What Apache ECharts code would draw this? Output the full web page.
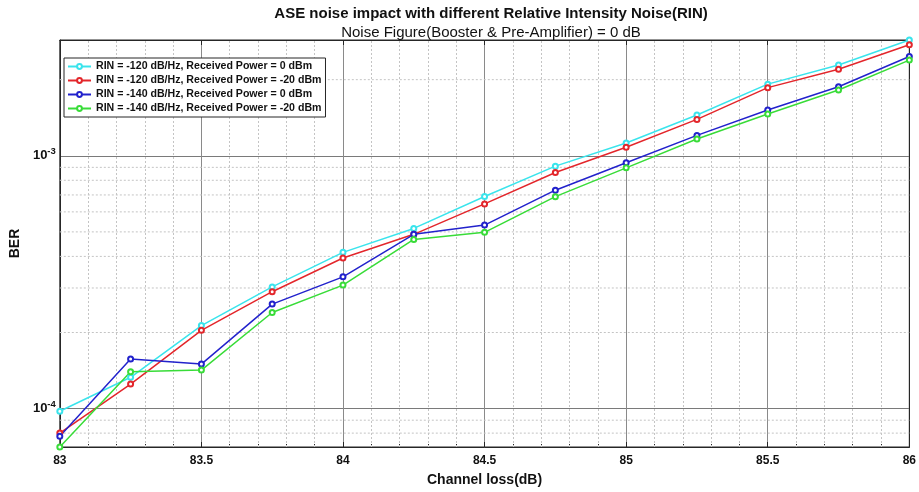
<!DOCTYPE html>
<html>
<head>
<meta charset="utf-8">
<script src="https://cdn.jsdelivr.net/npm/echarts@6/dist/echarts.min.js"></script>
<style>
  html, body { margin: 0; padding: 0; background: #fff; }
  #chart { width: 919px; height: 492px; }
</style>
</head>
<body>
<div id="chart"></div>
<script>
// channel loss (dB) on the x axis
const channelLoss = [83, 83.25, 83.5, 83.75, 84, 84.25, 84.5, 84.75, 85, 85.25, 85.5, 85.75, 86];

// BER, one array per curve
const rin120_p0 = [9.76e-5, 1.33e-4, 2.13e-4, 3.03e-4, 4.15e-4, 5.16e-4, 6.90e-4, 9.10e-4, 1.123e-3, 1.45e-3, 1.92e-3, 2.285e-3, 2.87e-3];
const rin120_p20 = [8.0e-5, 1.25e-4, 2.04e-4, 2.90e-4, 3.94e-4, 4.89e-4, 6.45e-4, 8.59e-4, 1.08e-3, 1.393e-3, 1.86e-3, 2.20e-3, 2.75e-3];
const rin140_p0 = [7.77e-5, 1.57e-4, 1.50e-4, 2.59e-4, 3.32e-4, 4.89e-4, 5.32e-4, 7.31e-4, 9.38e-4, 1.204e-3, 1.517e-3, 1.875e-3, 2.47e-3];
const rin140_p20 = [7.05e-5, 1.40e-4, 1.42e-4, 2.40e-4, 3.08e-4, 4.67e-4, 4.98e-4, 6.89e-4, 8.96e-4, 1.165e-3, 1.463e-3, 1.82e-3, 2.39e-3];

const seriesNames = [
  'RIN = -120 dB/Hz, Received Power = 0 dBm',
  'RIN = -120 dB/Hz, Received Power = -20 dBm',
  'RIN = -140 dB/Hz, Received Power = 0 dBm',
  'RIN = -140 dB/Hz, Received Power = -20 dBm'
];
const seriesColors = ['#3ae4ec', '#e3262b', '#2222cc', '#38dc38'];

// log axis limits and the in-between grid values (2..9 x 10^n)
const yMin = 7.05e-5;
const yMax = 2.87e-3;
const yMinorTicks = [8e-5, 9e-5, 2e-4, 3e-4, 4e-4, 5e-4, 6e-4, 7e-4, 8e-4, 9e-4, 2e-3];
// dotted vertical grid between the 0.5 dB major lines
const xMinorTicks = [
  83.1, 83.2, 83.3, 83.4, 83.6, 83.7, 83.8, 83.9,
  84.1, 84.2, 84.3, 84.4, 84.6, 84.7, 84.8, 84.9,
  85.1, 85.2, 85.3, 85.4, 85.6, 85.7, 85.8, 85.9
];

const FONT = '"Liberation Sans", Arial, sans-serif';
const MINOR_GRID = { color: '#c4c4c4', type: [2, 2], width: 1 };

const chart = echarts.init(document.getElementById('chart'), null, { renderer: 'canvas' });

function pairs(ys) {
  return channelLoss.map((x, i) => [x, ys[i]]);
}

const allData = [rin120_p0, rin120_p20, rin140_p0, rin140_p20];

const lineSeries = allData.map((ys, i) => ({
  name: seriesNames[i],
  type: 'line',
  data: pairs(ys),
  symbol: 'emptyCircle',
  symbolSize: 5,
  z: 3,
  lineStyle: { color: seriesColors[i], width: 1.5 },
  itemStyle: { color: seriesColors[i], borderWidth: 1.3 }
}));

// vertical dotted grid hung on the first curve
lineSeries[0].markLine = {
  silent: true,
  symbol: 'none',
  z: 1,
  animation: false,
  label: { show: false },
  lineStyle: MINOR_GRID,
  emphasis: { disabled: true },
  data: xMinorTicks.map(v => ({ xAxis: v }))
};

// horizontal dotted grid for the log axis, one flat line per value
const minorRows = yMinorTicks.map(v => ({
  name: 'grid ' + v,
  type: 'line',
  data: [[83, v], [86, v]],
  symbol: 'none',
  silent: true,
  z: 1,
  lineStyle: MINOR_GRID,
  emphasis: { disabled: true },
  tooltip: { show: false }
}));

function logLabel(v) {
  const e = Math.log10(v);
  if (Math.abs(e - Math.round(e)) > 1e-6) return '';
  return '{b|10}{s|' + Math.round(e) + '}';
}

const option = {
  backgroundColor: '#fff',
  animation: false,
  title: [
    {
      text: 'ASE noise impact with different Relative Intensity Noise(RIN)',
      left: 486, top: 1, textAlign: 'center',
      textStyle: { fontFamily: FONT, fontSize: 15, fontWeight: 'bold', color: '#111' }
    },
    {
      text: 'Noise Figure(Booster & Pre-Amplifier) = 0 dB',
      left: 486, top: 20, textAlign: 'center',
      textStyle: { fontFamily: FONT, fontSize: 15, fontWeight: 'normal', color: '#111' }
    }
  ],
  grid: {
    left: 57, right: 8, top: 40, bottom: 45,
    show: true, borderColor: '#262626', borderWidth: 1, backgroundColor: '#fff'
  },
  legend: {
    data: seriesNames,
    orient: 'vertical',
    left: 64, top: 58,
    backgroundColor: '#fff',
    borderColor: '#262626', borderWidth: 1,
    padding: [3, 4, 3, 3],
    itemGap: 3,
    itemWidth: 23, itemHeight: 6,
    textStyle: { fontFamily: FONT, fontSize: 10.6, fontWeight: 'bold', color: '#111' }
  },
  xAxis: [
    {
      type: 'value', min: 83, max: 86, interval: 0.5,
      name: 'Channel loss(dB)', nameLocation: 'middle', nameGap: 26,
      nameTextStyle: { fontFamily: FONT, fontSize: 14, fontWeight: 'bold', color: '#111' },
      axisLine: { show: true, lineStyle: { color: '#262626' } },
      axisTick: { inside: true, length: 5, lineStyle: { color: '#262626' } },
      minorTick: { show: true, splitNumber: 5, length: 3, lineStyle: { color: '#262626' } },
      axisLabel: {
        fontFamily: FONT, fontSize: 12, fontWeight: 'bold', color: '#111', margin: 8,
        formatter: v => String(v)
      },
      splitLine: { show: true, lineStyle: { color: '#8a8a8a', width: 1 } },
      minorSplitLine: { show: false }
    },
    {
      type: 'value', min: 83, max: 86, interval: 0.5, position: 'top',
      axisLine: { show: true, lineStyle: { color: '#262626' } },
      axisTick: { inside: true, length: 5, lineStyle: { color: '#262626' } },
      minorTick: { show: true, splitNumber: 5, length: 3, lineStyle: { color: '#262626' } },
      axisLabel: { show: false },
      splitLine: { show: false }
    }
  ],
  yAxis: [
    {
      type: 'log', logBase: 10, min: yMin, max: yMax,
      name: 'BER', nameLocation: 'middle', nameGap: 25, nameRotate: 90,
      nameTextStyle: { fontFamily: FONT, fontSize: 14, fontWeight: 'bold', color: '#111' },
      axisLine: { show: true, lineStyle: { color: '#262626' } },
      axisTick: { show: false },
      axisLabel: {
        margin: 4,
        formatter: logLabel,
        rich: {
          b: { fontFamily: FONT, fontSize: 13, fontWeight: 'bold', color: '#111' },
          s: { fontFamily: FONT, fontSize: 9.5, fontWeight: 'bold', color: '#111', padding: [0, 0, 9, 0] }
        }
      },
      splitLine: { show: true, lineStyle: { color: '#7a7a7a', width: 1 } }
    },
    {
      type: 'log', logBase: 10, min: yMin, max: yMax, position: 'right',
      axisLine: { show: true, lineStyle: { color: '#262626' } },
      axisTick: { show: false },
      axisLabel: { show: false },
      splitLine: { show: false }
    }
  ],
  series: minorRows.concat(lineSeries)
};

chart.setOption(option);
</script>
</body>
</html>
